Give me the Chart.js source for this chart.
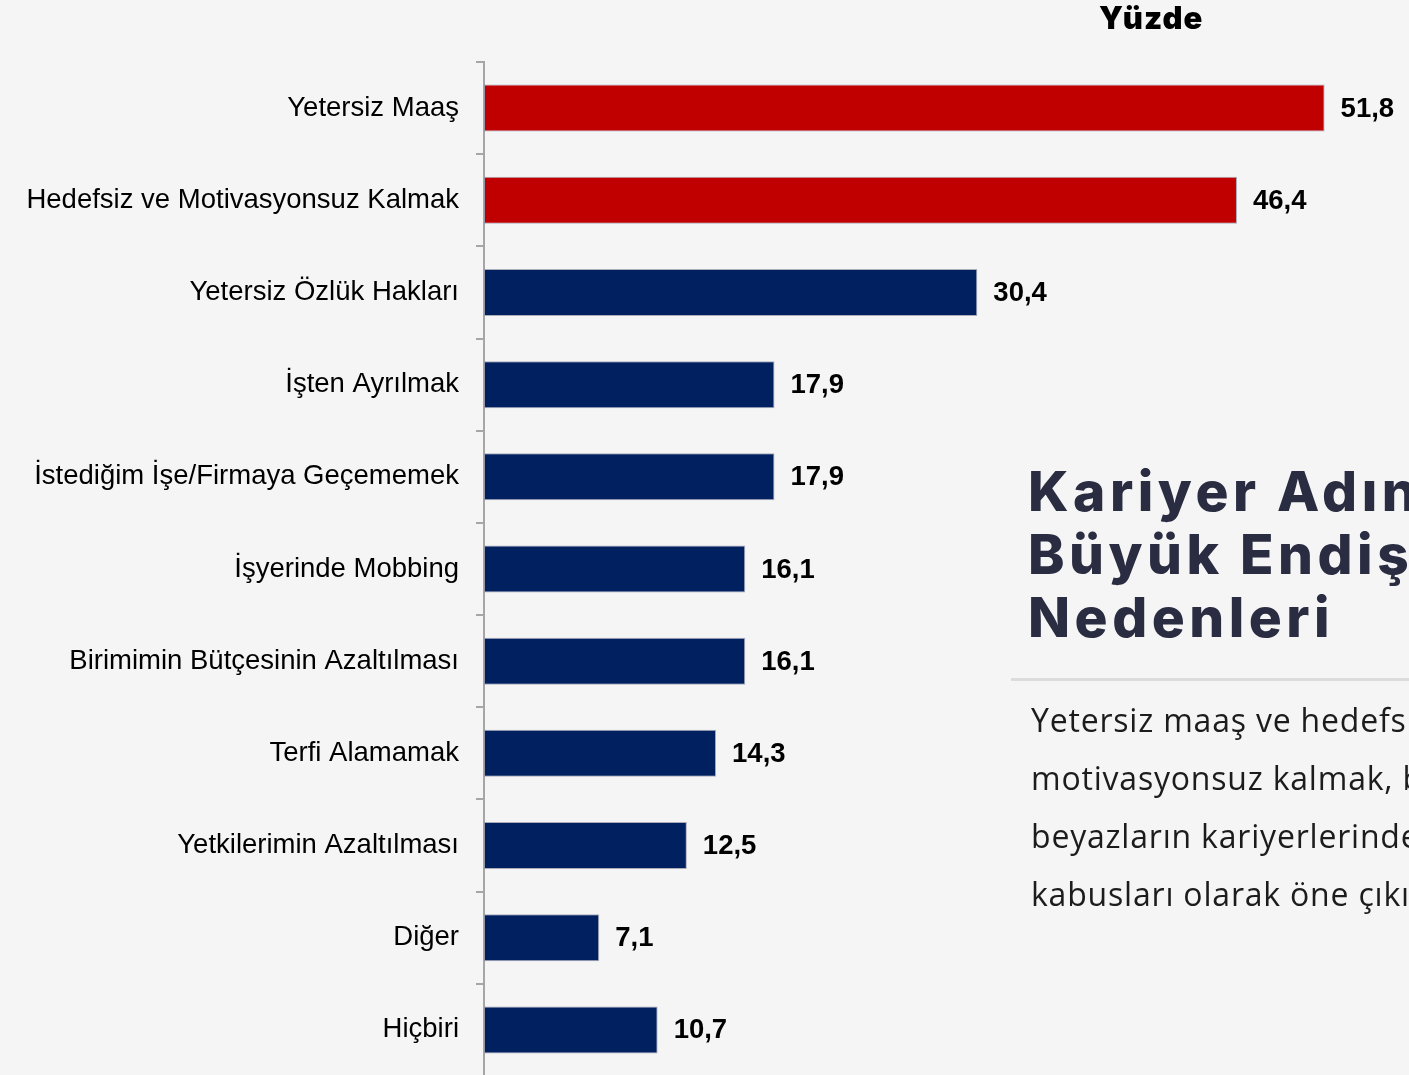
<!DOCTYPE html>
<html>
<head>
<meta charset="utf-8">
<script src="https://cdn.jsdelivr.net/npm/chart.js@4"></script>
<style>
html, body { margin: 0; padding: 0; }
body {
	width: 1409px;
	height: 1075px;
	overflow: hidden;
	position: relative;
	background: #f5f5f5;
}
#bars {
	position: absolute;
	left: 0;
	top: 0;
}
.unit {
	position: absolute;
	left: 1099px;
	top: -1px;
	font-family: Inter, sans-serif;
	font-weight: 900;
	font-size: 31px;
	letter-spacing: 1px;
	color: #000;
}
.panel {
	position: absolute;
	left: 1011px;
	top: 460px;
	width: 398px;
	overflow: hidden;
}
.panel h2 {
	margin: 0 0 0 17px;
	font-family: Inter, sans-serif;
	font-weight: 800;
	font-size: 55px;
	line-height: 63px;
	letter-spacing: 4.5px;
	color: #2a2c42;
	white-space: nowrap;
}
.panel hr {
	border: 0;
	border-top: 3px solid #dcdcdc;
	margin: 29px 0 0 0;
}
.panel p {
	margin: 10px 0 0 20px;
	font-family: "Open Sans", sans-serif;
	font-size: 32px;
	line-height: 58px;
	letter-spacing: 0.8px;
	color: #1c1c1c;
	white-space: nowrap;
}
</style>
</head>
<body>
<canvas id="bars" width="1409" height="1076"></canvas>
<div class="unit">Yüzde</div>
<div class="panel">
	<h2>Kariyer Adına En<br>Büyük Endişe<br>Nedenleri</h2>
	<hr>
	<p>Yetersiz maaş ve hedefsiz ve<br>motivasyonsuz kalmak, beyaz<br>beyazların kariyerlerindeki<br>kabusları olarak öne çıkıyor.</p>
</div>
<script>
const categories = [
	"Yetersiz Maaş",
	"Hedefsiz ve Motivasyonsuz Kalmak",
	"Yetersiz Özlük Hakları",
	"İşten Ayrılmak",
	"İstediğim İşe/Firmaya Geçememek",
	"İşyerinde Mobbing",
	"Birimimin Bütçesinin Azaltılması",
	"Terfi Alamamak",
	"Yetkilerimin Azaltılması",
	"Diğer",
	"Hiçbiri",
];
const values = [51.8, 46.4, 30.4, 17.9, 17.9, 16.1, 16.1, 14.3, 12.5, 7.1, 10.7];

// top two reasons are shown in red
const topCount = 2;
const red = "#c00000";
const navy = "#002060";

// draws "51,8" style numbers to the right of each bar
const valueLabels = {
	id: "valueLabels",
	afterDatasetsDraw(chart) {
		const ctx = chart.ctx;
		const meta = chart.getDatasetMeta(0);
		ctx.save();
		ctx.font = "bold 27.5px 'Liberation Sans', Arial, sans-serif";
		ctx.fillStyle = "#000";
		ctx.textAlign = "left";
		ctx.textBaseline = "middle";
		meta.data.forEach((bar, i) => {
			const txt = values[i].toFixed(1).replace(".", ",");
			ctx.fillText(txt, bar.x + 16, bar.y + 1);
		});
		ctx.restore();
	},
};

new Chart(document.getElementById("bars"), {
	type: "bar",
	data: {
		labels: categories,
		datasets: [
			{
				data: values,
				backgroundColor: values.map((v, i) => (i < topCount ? red : navy)),
				borderColor: "rgba(140,140,160,0.7)",
				borderWidth: 1,
				borderSkipped: false,
				barPercentage: 0.51,
				categoryPercentage: 1,
			},
		],
	},
	options: {
		indexAxis: "y",
		responsive: false,
		animation: false,
		layout: { padding: { top: 62, left: 0, right: 0, bottom: 0 } },
		plugins: {
			legend: { display: false },
			tooltip: { enabled: false },
		},
		scales: {
			x: {
				display: false,
				min: 0,
				max: 57,
			},
			y: {
				afterFit(scale) {
					// fixed axis width, and no extra room for the label overhang
					scale.width = 484;
					scale.paddingTop = 0;
					scale.paddingBottom = 0;
				},
				grid: {
					drawOnChartArea: false,
					drawTicks: true,
					tickLength: 8,
					color: "#a6a6a6",
					lineWidth: 2,
				},
				border: { display: true, color: "#a6a6a6", width: 2 },
				ticks: {
					padding: 17,
					color: "#000",
					font: { family: "'Liberation Sans', Arial, sans-serif", size: 27.5 },
				},
			},
		},
	},
	plugins: [valueLabels],
});
</script>
</body>
</html>
